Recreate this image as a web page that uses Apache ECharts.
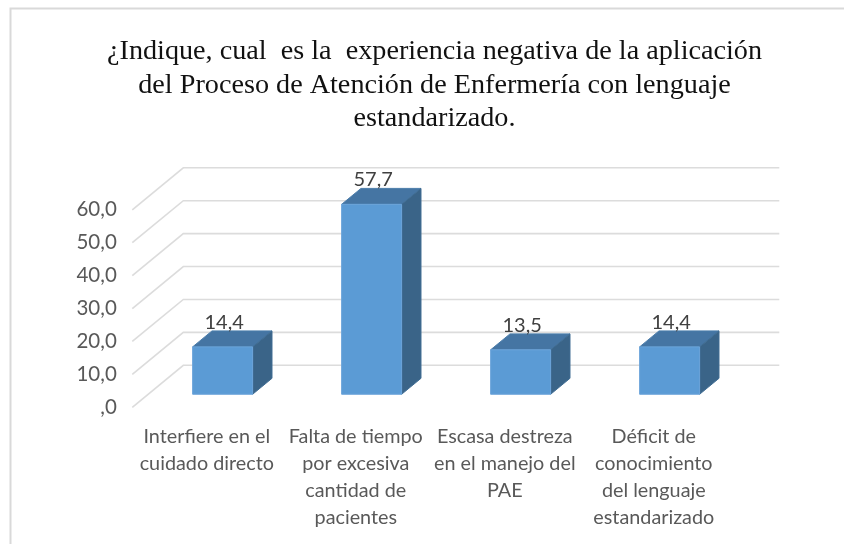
<!DOCTYPE html>
<html><head><meta charset="utf-8">
<style>html,body{margin:0;padding:0;background:#fff}#c{width:844px;height:544px}</style>
<script src="https://cdn.jsdelivr.net/npm/echarts@6/dist/echarts.min.js"></script>
</head><body><div id="c"></div>
<script>
const titleText = "¿Indique, cual  es la  experiencia negativa de la aplicación\ndel Proceso de Atención de Enfermería con lenguaje\nestandarizado.";
const categories = ["Interfiere en el\ncuidado directo","Falta de tiempo\npor excesiva\ncantidad de\npacientes","Escasa destreza\nen el manejo del\nPAE","Déficit de\nconocimiento\ndel lenguaje\nestandarizado"];
const values = [14.4, 57.7, 13.5, 14.4];
const valueLabels = ["14,4","57,7","13,5","14,4"];
const yTicks = [0,10,20,30,40,50,60];
const yTickLabels = [",0","10,0","20,0","30,0","40,0","50,0","60,0"];

const DX = 51, DY = -42;
const D0 = 0.31, D1 = 0.69;
const HALF = 30;
const at = (p, d) => [p[0] + d*DX, p[1] + d*DY];

const chart = echarts.init(document.getElementById('c'), null, {renderer:'canvas'});
chart.setOption({
  animation:false,
  backgroundColor:'#fff',
  title:{text:titleText,left:429.5,top:30,textAlign:'center',
    textStyle:{fontFamily:'"Liberation Serif",serif',fontSize:28.2,fontWeight:'normal',color:'#111',lineHeight:33.5}},
  graphic:[{type:'rect',shape:{x:10.5,y:8.5,width:860,height:560},style:{fill:'none',stroke:'#d9d9d9',lineWidth:2},silent:true}],
  grid:{left:132.3,top:209.8,width:596,height:197.5},
  xAxis:{type:'category',data:categories,
    axisLine:{show:false},axisTick:{show:false},splitLine:{show:false},
    axisLabel:{interval:0,margin:16,fontFamily:'Lato',fontSize:19.8,color:'#595959',lineHeight:27,align:'center',verticalAlign:'top'}},
  yAxis:{type:'value',min:0,max:60,interval:10,
    axisLine:{show:false},axisTick:{show:false},splitLine:{show:false},
    axisLabel:{margin:15.5,fontFamily:'Lato',fontSize:20.5,color:'#595959',
      formatter:(v)=>yTickLabels[yTicks.indexOf(v)]}},
  series:[
    {type:'custom',silent:true,z:1,
      data:yTicks.map(v=>[0,v]),
      encode:{x:0,y:1},
      renderItem:(params,api)=>{
        const v=api.value(1), band=api.size([1,0])[0];
        const a=api.coord([0,v]), b=api.coord([categories.length-1,v]);
        const fl=[a[0]-band/2,a[1]], fr=[b[0]+band/2,b[1]];
        const bl=at(fl,1), br=at(fr,1);
        const st={stroke:'#dcdcdc',lineWidth:1.6,fill:'none'};
        return {type:'group',children:[
          {type:'polyline',shape:{points:[fl,bl,br]},style:st}
        ]};
      }},
    {type:'custom',silent:true,z:2,
      data:values.map((v,i)=>[i,v]),
      encode:{x:0,y:1},
      renderItem:(params,api)=>{
        const i=api.value(0), v=api.value(1);
        const base=api.coord([i,0]), top=api.coord([i,v]);
        const L=x=>[base[0]+x,base[1]];
        const T=x=>[top[0]+x,top[1]];
        const fbl=at(L(-HALF),D0), fbr=at(L(HALF),D0), ftl=at(T(-HALF),D0), ftr=at(T(HALF),D0);
        const bbr=at(L(HALF),D1), btl=at(T(-HALF),D1), btr=at(T(HALF),D1);
        return {type:'group',children:[
          {type:'polygon',shape:{points:[ftl,ftr,btr,btl]},style:{fill:'#4575a3',stroke:'#4b7dab',lineWidth:1}},
          {type:'polygon',shape:{points:[fbr,bbr,btr,ftr]},style:{fill:'#3a6488',stroke:'#3f6c93',lineWidth:1}},
          {type:'polygon',shape:{points:[ftl,ftr,fbr,fbl]},style:{fill:'#5b9bd5',stroke:'#6ca5da',lineWidth:1}},
          {type:'text',style:{text:valueLabels[params.dataIndex],x:(ftl[0]+ftr[0])/2+1.5,y:ftl[1]-24.5,
            align:'center',verticalAlign:'middle',fontFamily:'Lato',fontSize:20,fill:'#404040'}}
        ]};
      }}
  ]
});
</script></body></html>
